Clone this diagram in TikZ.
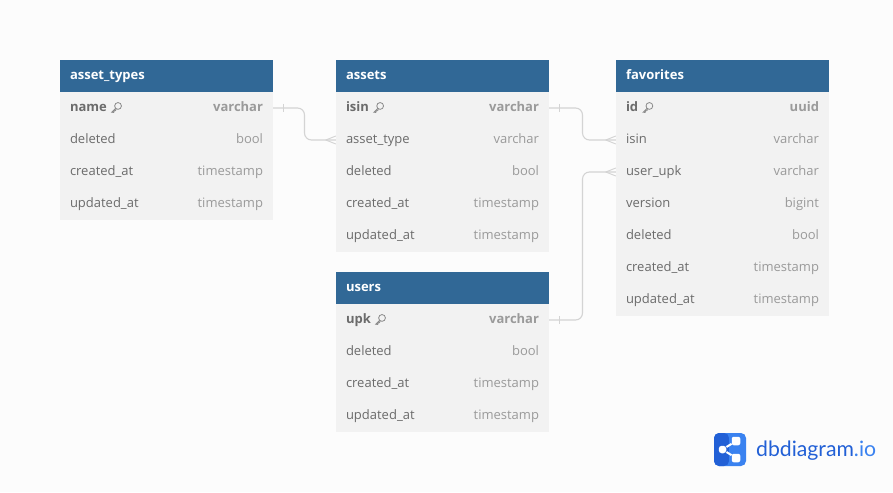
\documentclass[tikz,border=0pt]{standalone}
\usepackage{fontspec}
\setmainfont{Open Sans}
\newfontfamily\logofont{Lato}
\usetikzlibrary{calc}
\definecolor{headblue}{HTML}{316896}
\definecolor{rowgray}{HTML}{F2F2F2}
\definecolor{pagegray}{HTML}{FCFCFC}
\definecolor{fieldtext}{HTML}{6B6B6B}
\definecolor{typetext}{HTML}{9A9A9A}
\definecolor{keyline}{HTML}{8A8A8A}
\definecolor{relline}{HTML}{D4D4D4}
\definecolor{logodark}{HTML}{2260D6}
\definecolor{logolight}{HTML}{3A82F0}
\newcommand{\pkicon}{\hspace{4.5pt}\tikz[x=1pt,y=-1pt,baseline={(0,8.7)},line width=0.8,draw=keyline]{
  \draw (6.9,3.4) circle (3.4);
  \draw (4.5,5.8) -- (0.6,9.7) -- (2.6,9.9) -- (3,8.4) -- (4.2,8.1) -- (5.2,6.9);}}
\newcommand{\ftype}[1]{\hfill\textcolor{typetext}{#1}}
\tikzset{
  tablehead/.style={fill=headblue,text=white,font=\fontsize{13}{13}\selectfont\bfseries,text width=193,
    inner xsep=10,inner ysep=0,minimum height=32,text height=9.5,text depth=3,align=left},
  field/.style={fill=rowgray,text=fieldtext,font=\fontsize{13}{13}\selectfont,text width=193,
    inner xsep=10,inner ysep=0,minimum height=32,text height=9.5,text depth=3,align=left},
  keyfield/.style={field,font=\fontsize{13}{13}\selectfont\bfseries},
  rel/.style={draw=relline,line width=1.1,rounded corners=7},
  relmark/.style={draw=relline,line width=0.9},
  logodot/.style={fill=white,rounded corners=2,minimum size=8.5,inner sep=0},
}
\newcommand{\onemark}[1]{\draw[relmark] ($(#1.east)+(10,-4)$) -- ($(#1.east)+(10,4)$);}
\newcommand{\manymark}[1]{\draw[relmark] ($(#1.west)+(-10,0)$) -- ($(#1.west)+(0,-4)$);
  \draw[relmark] ($(#1.west)+(-10,0)$) -- ($(#1.west)+(0,4)$);}
\begin{document}
\begin{tikzpicture}[x=1pt,y=-1pt]
  \useasboundingbox[fill=pagegray] (0,0) rectangle (893,492);

  % asset_types
  \node[tablehead] (types) at (166.5,76) {asset\_types};
  \node[keyfield] (types_name) at (166.5,108) {name\pkicon\ftype{varchar}};
  \node[field] (types_deleted) at (166.5,140) {deleted\ftype{bool}};
  \node[field] (types_created) at (166.5,172) {created\_at\ftype{timestamp}};
  \node[field] (types_updated) at (166.5,204) {updated\_at\ftype{timestamp}};

  % assets
  \node[tablehead] (assets) at (442.5,76) {assets};
  \node[keyfield] (assets_isin) at (442.5,108) {isin\pkicon\ftype{varchar}};
  \node[field] (assets_type) at (442.5,140) {asset\_type\ftype{varchar}};
  \node[field] (assets_deleted) at (442.5,172) {deleted\ftype{bool}};
  \node[field] (assets_created) at (442.5,204) {created\_at\ftype{timestamp}};
  \node[field] (assets_updated) at (442.5,236) {updated\_at\ftype{timestamp}};

  % users
  \node[tablehead] (users) at (442.5,288) {users};
  \node[keyfield] (users_upk) at (442.5,320) {upk\pkicon\ftype{varchar}};
  \node[field] (users_deleted) at (442.5,352) {deleted\ftype{bool}};
  \node[field] (users_created) at (442.5,384) {created\_at\ftype{timestamp}};
  \node[field] (users_updated) at (442.5,416) {updated\_at\ftype{timestamp}};

  % favorites
  \node[tablehead] (favs) at (722.5,76) {favorites};
  \node[keyfield] (favs_id) at (722.5,108) {id\pkicon\ftype{uuid}};
  \node[field] (favs_isin) at (722.5,140) {isin\ftype{varchar}};
  \node[field] (favs_upk) at (722.5,172) {user\_upk\ftype{varchar}};
  \node[field] (favs_version) at (722.5,204) {version\ftype{bigint}};
  \node[field] (favs_deleted) at (722.5,236) {deleted\ftype{bool}};
  \node[field] (favs_created) at (722.5,268) {created\_at\ftype{timestamp}};
  \node[field] (favs_updated) at (722.5,300) {updated\_at\ftype{timestamp}};

  % relations
  \draw[rel] (types_name.east) -| ($(types_name.east)!.5!(assets_type.west)$) |- (assets_type.west);
  \draw[rel] (assets_isin.east) -| ($(assets_isin.east)!.5!(favs_isin.west)$) |- (favs_isin.west);
  \draw[rel] (users_upk.east) -| ($(users_upk.east)!.5!(favs_upk.west)$) |- (favs_upk.west);
  \onemark{types_name}
  \onemark{assets_isin}
  \onemark{users_upk}
  \manymark{assets_type}
  \manymark{favs_isin}
  \manymark{favs_upk}

  % logo
  \fill[logolight,rounded corners=5] (714,433) rectangle (746,466);
  \fill[logodark,rounded corners=5] (729,433) -- (714,433) -- (714,466) -- (729,466) -- cycle;
  \fill[logolight] (729,433) rectangle (734,466);
  \node[logodot,rounded corners=3,minimum size=7.5] (dot_left) at (722.5,449.5) {};
  \node[logodot] (dot_top) at (736,441) {};
  \node[logodot] (dot_bottom) at (736,458) {};
  \draw[white,line width=2] (dot_left) -- (dot_top);
  \draw[white,line width=2] (dot_left) -- (dot_bottom);
  \node[anchor=base west,inner sep=0,font=\logofont\fontsize{21.2}{21.2}\selectfont] (logo) at (756,456)
    {\textcolor{logodark}{dbdiagram}\textcolor{logolight}{.io}};
\end{tikzpicture}
\end{document}
